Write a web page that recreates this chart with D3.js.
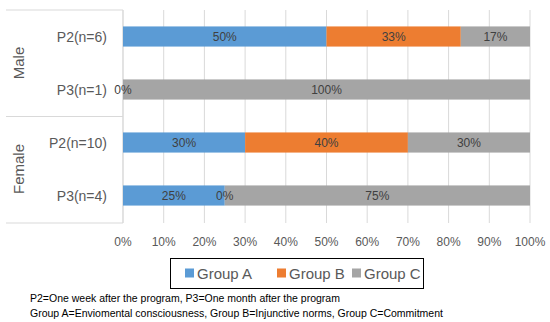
<!DOCTYPE html>
<html>
<head>
<meta charset="utf-8">
<script src="https://cdn.jsdelivr.net/npm/d3@7"></script>
<style>
  body { margin: 0; background: #fff; }
  text { font-family: "Liberation Sans", Arial, sans-serif; }
</style>
</head>
<body>
<svg id="chart" width="550" height="322"></svg>
<script>
// data
const groups = ['Male', 'Female'];
const rows = ['P2(n=6)', 'P3(n=1)', 'P2(n=10)', 'P3(n=4)'];
const rowGroup = ['Male', 'Male', 'Female', 'Female'];
const series = ['Group A', 'Group B', 'Group C'];
const groupA = [50, 0, 30, 25];
const groupB = [33, 0, 40, 0];
const groupC = [17, 100, 30, 75];
const ticks = [0, 10, 20, 30, 40, 50, 60, 70, 80, 90, 100];
const notes = [
  'P2=One week after the program, P3=One month after the program',
  'Group A=Enviomental consciousness, Group B=Injunctive norms, Group C=Commitment'
];
const colors = ['#5B9BD5', '#ED7D31', '#A5A5A5'];

const svg = d3.select('#chart');
const margin = { left: 123, right: 20, top: 10, bottom: 100 };
const W = 550, H = 322;

const x = d3.scaleLinear().domain([0, 100]).range([margin.left, W - margin.right]);
const y = d3.scaleBand().domain(rows.map((r, i) => i)).range([10, 222]).paddingInner(0.62).paddingOuter(0.31);

// gridlines
svg.append('g')
  .selectAll('line')
  .data(ticks)
  .enter()
  .append('line')
  .attr('x1', d => x(d)).attr('x2', d => x(d))
  .attr('y1', 10).attr('y2', 223)
  .attr('stroke', '#d9d9d9')
  .attr('stroke-width', 1);

// tick labels
svg.append('g')
  .selectAll('text')
  .data(ticks)
  .enter()
  .append('text')
  .attr('x', d => x(d))
  .attr('y', 242)
  .attr('text-anchor', 'middle')
  .attr('dominant-baseline', 'central')
  .attr('font-size', 12)
  .attr('fill', '#595959')
  .text(d => d + '%');

// category axis box
const axisColor = '#d9d9d9';
svg.append('line')
  .attr('x1', x(0)).attr('x2', x(0)).attr('y1', 10).attr('y2', 223)
  .attr('stroke', axisColor);
[10, 116.5, 223].forEach(yy => {
  svg.append('line')
    .attr('x1', 6).attr('x2', x(0)).attr('y1', yy).attr('y2', yy)
    .attr('stroke', axisColor);
});

// stacked bars
const stackData = rows.map((r, i) => ({ i, a: groupA[i], b: groupB[i], c: groupC[i] }));
const stack = d3.stack().keys(['a', 'b', 'c'])(stackData);

svg.append('g')
  .selectAll('g')
  .data(stack)
  .enter()
  .append('g')
  .attr('fill', (d, k) => colors[k])
  .selectAll('rect')
  .data(d => d)
  .enter()
  .append('rect')
  .attr('x', d => x(d[0]))
  .attr('width', d => x(d[1]) - x(d[0]))
  .attr('y', d => y(d.data.i))
  .attr('height', y.bandwidth());

// data labels on top of all bars (skip a zero label stacked exactly on another zero label)
const labels = [];
stack.forEach((layer, k) => {
  layer.forEach(d => {
    const dup = labels.some(l => l.row === d.data.i && l.v === 0 && d[1] - d[0] === 0 && l.pos === d[0]);
    if (!dup) labels.push({ row: d.data.i, v: d[1] - d[0], pos: d[0], s: d });
  });
});

svg.append('g')
  .selectAll('text')
  .data(labels)
  .enter()
  .append('text')
  .attr('x', l => (x(l.s[0]) + x(l.s[1])) / 2)
  .attr('y', l => y(l.row) + y.bandwidth() / 2)
  .attr('text-anchor', 'middle')
  .attr('dominant-baseline', 'central')
  .attr('font-size', 12)
  .attr('fill', '#404040')
  .text(l => Math.round(l.v) + '%');

// row labels
svg.append('g')
  .selectAll('text')
  .data(rows)
  .enter()
  .append('text')
  .attr('x', 107)
  .attr('y', (d, i) => y(i) + y.bandwidth() / 2)
  .attr('text-anchor', 'end')
  .attr('dominant-baseline', 'central')
  .attr('font-size', 14)
  .attr('fill', '#595959')
  .text(d => d);

// group labels
svg.append('g')
  .selectAll('text')
  .data(groups)
  .enter()
  .append('text')
  .attr('transform', (g) => {
    const idx = rows.map((r, i) => i).filter(i => rowGroup[i] === g);
    const cy = (y(idx[0]) + y(idx[idx.length - 1]) + y.bandwidth()) / 2;
    return `translate(18,${cy}) rotate(-90)`;
  })
  .attr('text-anchor', 'middle')
  .attr('dominant-baseline', 'central')
  .attr('font-size', 15)
  .attr('fill', '#595959')
  .text(d => d);

// legend
svg.append('rect')
  .attr('x', 170.5).attr('y', 258.5).attr('width', 253).attr('height', 30)
  .attr('fill', '#fff').attr('stroke', '#000').attr('stroke-width', 1);

const legendX = [185, 277, 352];
const leg = svg.append('g')
  .selectAll('g')
  .data(series)
  .enter()
  .append('g')
  .attr('transform', (d, k) => `translate(${legendX[k]},273)`);
leg.append('rect')
  .attr('x', 0).attr('y', -4.5).attr('width', 9).attr('height', 9)
  .attr('fill', (d, k) => colors[k]);
leg.append('text')
  .attr('x', 12)
  .attr('dominant-baseline', 'central')
  .attr('font-size', 15)
  .attr('fill', '#595959')
  .text(d => d);

// footnotes
svg.append('g')
  .selectAll('text')
  .data(notes)
  .enter()
  .append('text')
  .attr('x', 30)
  .attr('y', (d, i) => 298 + i * 15)
  .attr('dominant-baseline', 'central')
  .attr('font-size', 10.5)
  .attr('fill', '#000')
  .text(d => d);
</script>
</body>
</html>
